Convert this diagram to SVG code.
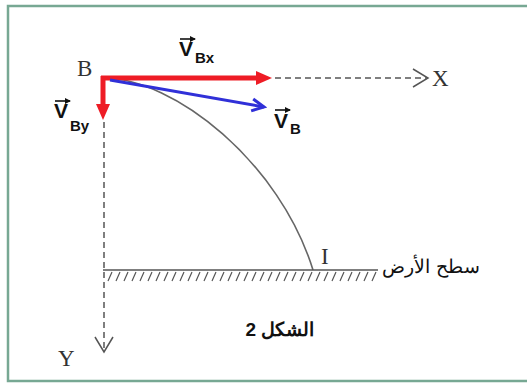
<svg xmlns="http://www.w3.org/2000/svg" width="527" height="384" viewBox="0 0 527 384">
<style>
.axis{stroke:#555;stroke-width:1.5;fill:none;stroke-dasharray:6 4}
.ground{stroke:#555;stroke-width:1.6;fill:none}
.hatch{stroke:#555;stroke-width:1.2}
.pt{font-family:"Liberation Serif",serif;font-size:23px;fill:#333}
.vl{font-family:"Liberation Sans",Arial,sans-serif;font-weight:bold;font-size:21px;fill:#111}
.vs{font-family:"Liberation Sans",Arial,sans-serif;font-weight:bold;font-size:15px;fill:#111}
.over{stroke:#111;stroke-width:1.6;marker-end:url(#tiny)}
.ar{font-family:"Liberation Sans","Noto Sans",sans-serif;fill:#111}
.red{stroke:#ee1c25;stroke-width:5;fill:none;marker-end:url(#redHead)}
</style>
<defs>
<marker id="redHead" markerUnits="userSpaceOnUse" markerWidth="16" markerHeight="14" refX="2" refY="7" orient="auto"><path d="M0,0 L16,7 L0,14 z" fill="#ee1c25"/></marker>
<marker id="blueHead" markerUnits="userSpaceOnUse" markerWidth="16" markerHeight="16" refX="13" refY="8" orient="auto"><path d="M1,2 L13,8 L1,14" fill="none" stroke="#3030d8" stroke-width="3"/></marker>
<marker id="axisHead" markerUnits="userSpaceOnUse" markerWidth="18" markerHeight="22" refX="16" refY="11" orient="auto"><path d="M1,2 L16,11 L1,20" fill="none" stroke="#555" stroke-width="1.5"/></marker>
<marker id="tiny" markerUnits="userSpaceOnUse" markerWidth="6" markerHeight="6" refX="5" refY="3" orient="auto"><path d="M0,0 L6,3 L0,6 z" fill="#111"/></marker>
</defs>
<rect x="0" y="0" width="527" height="384" fill="#fff"/>
<rect id="frame" x="8" y="6" width="530" height="375" fill="none" stroke="#77a893" stroke-width="2.5"/>

<g id="connectors">
<line id="x-axis" class="axis" x1="275" y1="78" x2="428" y2="78" style="marker-end:url(#axisHead)"/>
<line id="y-axis" class="axis" x1="104" y1="122" x2="104" y2="352" style="marker-end:url(#axisHead)"/>
<path id="trajectory" d="M103,78 C175,78 280,163 313,270" fill="none" stroke="#666" stroke-width="1.6"/>
<line id="v-bx" class="red" x1="101" y1="78" x2="258" y2="78"/>
<line id="v-by" class="red" x1="103" y1="76" x2="103" y2="106"/>
<line id="v-b" x1="110" y1="80" x2="264" y2="107" stroke="#3030d8" stroke-width="3" marker-end="url(#blueHead)"/>
</g>

<g id="ground">
<line class="ground" x1="103" y1="270" x2="378" y2="270"/>
<path class="hatch" d="M112,272 l-4,9 M120,272 l-4,9 M128,272 l-4,9 M136,272 l-4,9 M144,272 l-4,9 M152,272 l-4,9 M160,272 l-4,9 M168,272 l-4,9 M176,272 l-4,9 M184,272 l-4,9 M192,272 l-4,9 M200,272 l-4,9 M208,272 l-4,9 M216,272 l-4,9 M224,272 l-4,9 M232,272 l-4,9 M240,272 l-4,9 M248,272 l-4,9 M256,272 l-4,9 M264,272 l-4,9 M272,272 l-4,9 M280,272 l-4,9 M288,272 l-4,9 M296,272 l-4,9 M304,272 l-4,9 M312,272 l-4,9 M320,272 l-4,9 M328,272 l-4,9 M336,272 l-4,9 M344,272 l-4,9 M352,272 l-4,9 M360,272 l-4,9 M368,272 l-4,9 M376,272 l-4,9"/>
<text class="ar" x="431" y="273" font-size="18.5" text-anchor="middle" direction="rtl">سطح الأرض</text>
</g>

<g id="node-B"><text class="pt" x="77" y="76">B</text></g>
<g id="node-X"><text class="pt" x="432" y="86">X</text></g>
<g id="node-Y"><text class="pt" x="58" y="366">Y</text></g>
<g id="node-I"><text class="pt" x="321" y="264" font-size="21">I</text></g>

<g id="label-VBx">
<line class="over" x1="180" y1="39" x2="195" y2="39"/>
<text class="vl" x="179" y="56">V</text><text class="vs" x="195" y="63">Bx</text>
</g>
<g id="label-VBy">
<line class="over" x1="55" y1="101" x2="70" y2="101"/>
<text class="vl" x="54" y="118">V</text><text class="vs" x="70" y="131">By</text>
</g>
<g id="label-VB">
<line class="over" x1="275" y1="110" x2="290" y2="110"/>
<text class="vl" x="274" y="128">V</text><text class="vs" x="290" y="134">B</text>
</g>

<g id="caption">
<text class="ar" x="280" y="336" font-size="19" font-weight="bold" text-anchor="middle" direction="rtl">الشكل 2</text>
</g>
</svg>
